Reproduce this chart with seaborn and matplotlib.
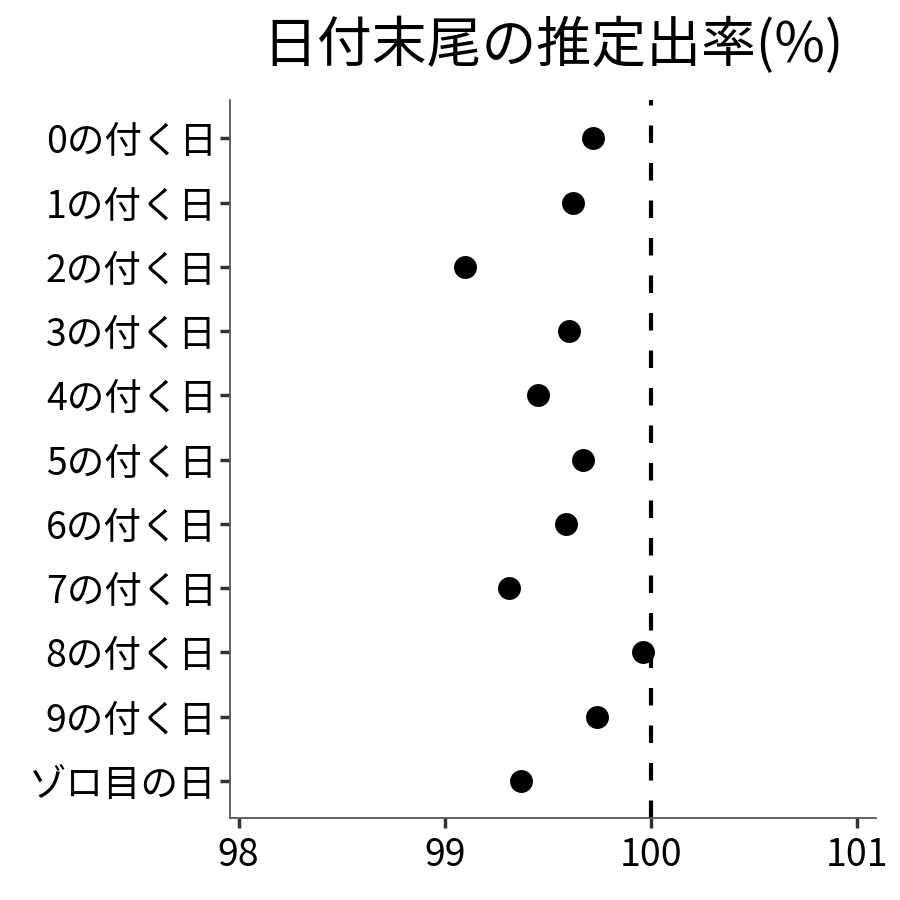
import matplotlib
matplotlib.use('Agg')
import matplotlib.pyplot as plt
import pandas as pd
import seaborn as sns

sns.set_theme(style='white')
plt.rcParams['font.family'] = ['Noto Sans CJK JP', 'DejaVu Sans']

# data
labels = ['0の付く日', '1の付く日', '2の付く日', '3の付く日', '4の付く日',
          '5の付く日', '6の付く日', '7の付く日', '8の付く日', '9の付く日', 'ゾロ目の日']
rates = [99.72, 99.62, 99.10, 99.60, 99.45, 99.67, 99.59, 99.31, 99.96, 99.74, 99.37]

df = pd.DataFrame({'day': labels, 'rate': rates})

fig = plt.figure(figsize=(9, 9), dpi=100)
ax = fig.add_axes([0.256, 0.091, 0.717, 0.798])

ax.axvline(100, color='black', linestyle=(0, (4.2, 4.8)), linewidth=3, zorder=1)
sns.stripplot(data=df, x='rate', y='day', order=labels, jitter=False,
              color='black', size=16.5, ax=ax, zorder=3)

ax.set_xlim(97.96, 101.09)
ax.set_ylim(10.58, -0.6)
ax.set_xticks([98, 99, 100, 101])
ax.set_xlabel('')
ax.set_ylabel('')
ax.set_title('日付末尾の推定出率(%)', fontsize=39.5, pad=27, color='black')

for s in ['top', 'right']:
    ax.spines[s].set_visible(False)
for s in ['left', 'bottom']:
    ax.spines[s].set_color('#555555')
    ax.spines[s].set_linewidth(1.3)
ax.tick_params(axis='both', length=7, width=2.5, color='#333333',
               labelsize=27, labelcolor='black', left=True, bottom=True, pad=3)
ax.tick_params(axis='x', pad=6)

fig.savefig('out.png', dpi=100)
